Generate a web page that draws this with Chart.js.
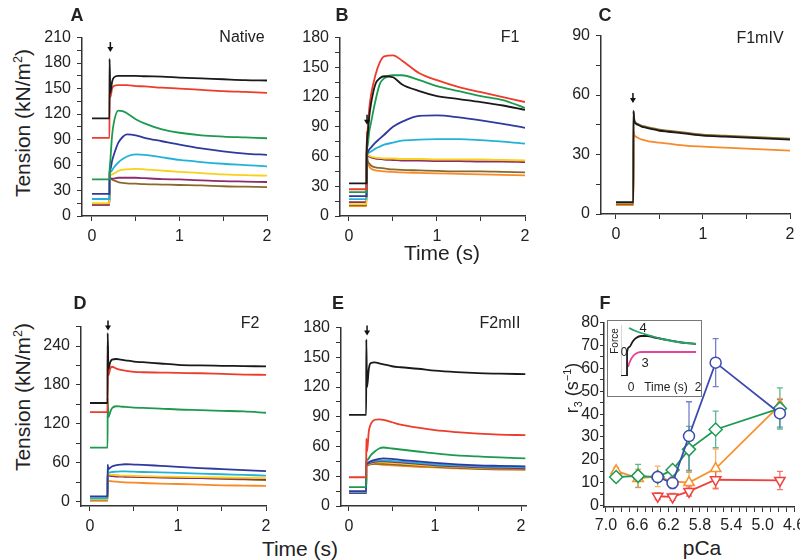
<!DOCTYPE html>
<html>
<head>
<meta charset="utf-8">
<script src="https://cdn.jsdelivr.net/npm/chart.js@4.4.0/dist/chart.umd.min.js"></script>
<style>
  body { margin: 0; width: 800px; height: 560px; position: relative; overflow: hidden; background: #fff;
         font-family: "Liberation Sans", Arial, sans-serif; color: #222; }
  canvas { position: absolute; }
  .t { position: absolute; transform: translate(-50%, -50%); white-space: nowrap; line-height: 1; }
  .rot { transform: translate(-50%, -50%) rotate(-90deg); }
  .big { font-size: 21px; }
  .lab { font-weight: bold; font-size: 18px; }
  .name { font-size: 16px; }
  .inset { position: absolute; left: 607px; top: 320px; width: 95px; height: 77px; border: 1px solid #777; box-sizing: border-box; }
  sup { font-size: 0.6em; }
  sub { font-size: 0.6em; }
</style>
</head>
<body>
<script>
// sample times (s) shared by the tension traces
var timeS = [0, 0.2, 0.201, 0.21, 0.23, 0.25, 0.3, 0.35, 0.4, 0.5, 0.6, 0.8, 1.0, 1.25, 1.5, 1.75, 2.0];
var timeE = [0, 0.2, 0.201, 0.21, 0.23, 0.25, 0.3, 0.35, 0.4, 0.5, 0.6, 0.8, 1.0, 1.25, 1.5, 1.75, 2.05];

// A - Native
var aBlack  = [115,115,185,145,158,163,165,165,165,165,164.5,164,163,162,161,160,159.5];
var aRed    = [92,92,150,140,150,153,154,154,154,153,152.5,151,150,148.5,147,146,145];
var aGreen  = [43,43,50,65,95,110,124,123.5,121,114,109,102,98,95,93.5,92.5,91.5];
var aBlue   = [26,26,52,55,65,72,86,93,96,95,92,88,84,79.5,76,73.5,72];
var aCyan   = [20,20,50,52,54,57,63,67,70,72.5,72,69,66,63.5,61.5,60,58.5];
var aYellow = [15,15,50,48,49,50,53,54.5,55,55.5,55,53.5,52,50.5,49,48,47.5];
var aPurple = [13,13,47,44,44,44,45,45,45,45,44.5,43.5,43,42,41,40.5,40];
var aBrown  = [13,13,48,45,43,42,40,39,38.5,38,37.5,37,36.5,36,35,34.5,34];

// B - F1
var bBlack  = [33,33,63,80,100,113,133,139,141,140,133,126,121,118,115,111.5,107];
var bRed    = [27,27,63,85,108,122,142,155,161,162,157,144,137,130,125,120,115];
var bGreen  = [24,24,63,70,85,94,116,133,139,142,142,137,131,126,121,117,109];
var bBlue   = [20,20,63,64,67,69,74,78,82,90,95,101,101.5,99.5,96.5,93,89];
var bCyan   = [17,17,63,63,64,65,68,70,72,74,76,77,77.5,77.5,76.5,75,73];
var bYellow = [12,12,63,62,61,60,59,58.5,58,58,57.5,57.5,57,57,57,56.5,56];
var bPurple = [14,14,63,62,60,59,58,57.5,57,56.5,56,56,55.5,55.5,55,55,54.5];
var bBrown  = [11,11,85,58,53,51,49,48.5,48,47,46.5,46,45.5,45,45,44.5,44];
var bOrange = [10,10,58,54,50,48,46,45.5,45,44.5,44,43.5,43,42.5,42,41.5,41];

// C - F1mIV
var cBlack  = [6,6,52,47,45.5,45,44,43.5,43,42,41.5,40.5,39.5,39,38.5,38,37.5];
var cBrown  = [5,5,52,48,46,45.5,44.5,44,43.5,42.5,42,41,40,39.5,39,38.5,38];
var cOrange = [4.5,4.5,42,40,39,38.5,37.5,37,36.5,36,35.5,34.5,34,33.5,33,32.5,32];

// D - F2
var dBlack  = [152,152,260,205,215,219,220,219,218,216,215,213,211,210,209.5,209,208.5];
var dRed    = [138,138,240,195,205,208,205,203,202,200,199.5,199,198.5,198,197,196,195.5];
var dGreen  = [83,83,160,130,138,144,147,146.5,146,145,144.5,143.5,142,141,140,139,137];
var dBlue   = [8,8,57,50,52,54,56,57,57.5,57,56.5,55,53.5,51.5,50,48.5,47];
var dCyan   = [5,5,48,45,45,45.5,46,46.5,46.5,46,45.5,45,44,43,42,41,40];
var dYellow = [3,3,45,42,41.5,41,40.5,40,40,39.5,39,38.5,38,37.5,37,36.5,36];
var dPurple = [3,3,44,40,39.5,39,38.5,38.5,38,38,37.5,37,36.5,36,35.5,35,34.5];
var dBrown  = [2,2,48,42,41,40.5,40,39.5,39,38.5,38,37.5,37,36,35,34,33];
var dOrange = [1,1,35,32,31.5,31,30.5,30,29.5,29,28.5,27.5,27,26,25,24.5,24];

// E - F2mII
var eBlack  = [92,92,168,120,138,144,145,144,143,141,140,138.5,136.5,135,134,133.5,133];
var eRed    = [29,29,68,55,75,82,87,87.5,87,84.5,82,79,76.5,74.5,73,72,71.5];
var eGreen  = [19,19,48,46,48,51,55,58,59,58,57,55,53,51,50,49,48];
var eBlue   = [15,15,44,43,44,45,46.5,47.5,48,47.5,46.5,45,43.5,42,41,40.5,40];
var eCyan   = [14,14,45,43,44,44.5,45.5,46,46,45.5,45,43.5,42,41,40,39.5,39];
var ePurple = [13,13,44,42,43,43.5,44.5,45,45,44.5,44,42.5,41,40,39,38.5,38];
var eYellow = [14,14,44,42,42.5,43,44,44,44,43.5,43,41.5,40.5,39.5,38.5,38,38];
var eBrown  = [13,13,43,41,41.5,42,42.5,42.5,42.5,42,41.5,40.5,39.5,38.5,37.5,37,37];
var eOrange = [13,13,46,43,43,43,42.5,42,41.5,41,40.5,39.5,39,38,37.5,37,36.5];

// F - r3 vs pCa
var fBluePca   = [6.34, 6.15, 5.94, 5.60, 4.78];
var fBlueR3    = [12.5, 9.9, 30.4, 62.5, 40.3];
var fBlueErr   = [1.5, 2.5, 15, 10.5, 6];
var fGreenPca  = [6.87, 6.59, 6.34, 6.15, 5.94, 5.60, 4.78];
var fGreenR3   = [12.5, 13, 12.5, 15.6, 24.6, 33.3, 42.5];
var fGreenErr  = [2, 5, 2, 1.5, 10, 8, 9];
var fOrangePca = [6.87, 6.59, 6.34, 6.15, 5.94, 5.60, 4.78];
var fOrangeR3  = [15.2, 11.9, 12.8, 10.5, 10.1, 16.2, 43.9];
var fOrangeErr = [1.5, 4, 4.5, 1.5, 5, 8.5, 3];
var fRedPca    = [6.34, 6.15, 5.94, 5.60, 4.78];
var fRedR3     = [4.1, 3.8, 6.2, 11.3, 11.0];
var fRedErr    = [1.5, 1.5, 2, 4, 4];

// F inset (arbitrary force units)
var insetBlackT = [-0.3, -0.12, -0.119, -0.05, 0.05, 0.15, 0.3, 0.5, 0.7, 1.0, 1.4, 1.94];
var insetBlack  = [0, 0, 4.8, 5.8, 6.9, 7.6, 8.0, 8.0, 7.7, 7.3, 6.8, 6.4];
var insetGreenT = [-0.06, 0.1, 0.3, 0.5, 0.7, 1.0, 1.4, 1.94];
var insetGreen  = [9.6, 9.1, 8.6, 8.2, 7.8, 7.3, 6.8, 6.4];
var insetPinkT  = [-0.09, -0.04, 0.05, 0.15, 0.3, 0.6, 1.94];
var insetPink   = [1.8, 2.8, 3.9, 4.5, 4.8, 4.8, 4.8];

// tick labels
var timeLabels = [0, 1, 2];
var yLabelsA = [0, 30, 60, 90, 120, 150, 180, 210];
var yLabelsB = [0, 30, 60, 90, 120, 150, 180];
var yLabelsC = [0, 30, 60, 90];
var yLabelsD = [0, 60, 120, 180, 240];
var yLabelsE = [0, 30, 60, 90, 120, 150, 180];
var yLabelsF = [0, 10, 20, 30, 40, 50, 60, 70, 80];
var pcaLabels = [7.0, 6.6, 6.2, 5.8, 5.4, 5.0, 4.6];

// stimulus arrows (x, y of tip)
var arrowA = [0.21, 193];
var arrowB = [0.205, 92];
var arrowC = [0.195, 56];
var arrowD = [0.205, 264];
var arrowE = [0.21, 172];

var col = {
  black: "#1a1a1a", red: "#ee3b2b", green: "#1d9a4f", blue: "#2e3a9e", cyan: "#22b2d8",
  yellow: "#f8d21a", purple: "#8e2a6e", brown: "#8a6a2a", orange: "#f78a2a"
};

Chart.defaults.font.family = "'Liberation Sans', Arial, sans-serif";
Chart.defaults.color = "#222";

function pts(xs, ys) {
  return ys.map(function (y, i) { return { x: xs[i], y: y }; });
}

function trace(xs, ys, c) {
  return { data: pts(xs, ys), borderColor: c, borderWidth: 1.8, pointRadius: 0,
           cubicInterpolationMode: "monotone", fill: false };
}

function axis(min, max, step, labels, fmt, rev, tickLen, pad) {
  return {
    type: "linear", min: min, max: max, reverse: !!rev,
    afterBuildTicks: function (s) {
      var t = [];
      for (var k = Math.ceil(min / step - 1e-6); k * step <= max + 1e-6; k++) t.push({ value: +(k * step).toFixed(3) });
      s.ticks = t;
    },
    ticks: {
      autoSkip: false, maxRotation: 0, padding: pad == null ? 6 : pad, color: "#222", font: { size: 16 },
      callback: function (v) { return labels.indexOf(+(+v).toFixed(2)) >= 0 ? fmt(v) : ""; }
    },
    grid: { drawOnChartArea: false, drawTicks: true, tickLength: tickLen || 5, color: "#333" },
    border: { display: true, color: "#333", width: 1.5 }
  };
}

function arrowPlugin(arrow) {
  return {
    id: "arrow",
    afterDatasetsDraw: function (chart) {
      if (!arrow) return;
      var ctx = chart.ctx;
      var x = chart.scales.x.getPixelForValue(arrow[0]);
      var y = chart.scales.y.getPixelForValue(arrow[1]);
      ctx.save();
      ctx.strokeStyle = "#111"; ctx.fillStyle = "#111"; ctx.lineWidth = 1.5;
      ctx.beginPath(); ctx.moveTo(x, y - 10); ctx.lineTo(x, y - 3); ctx.stroke();
      ctx.beginPath(); ctx.moveTo(x - 3, y - 5); ctx.lineTo(x + 3, y - 5); ctx.lineTo(x, y); ctx.closePath(); ctx.fill();
      ctx.restore();
    }
  };
}

function panel(area, x, y, datasets, plugins) {
  var wy = 40, hx = 26, padT = 10, padR = 12;
  var c = document.createElement("canvas");
  c.width = area[2] - area[0] + wy + padR;
  c.height = area[3] - area[1] + padT + hx;
  c.style.left = (area[0] - wy) + "px";
  c.style.top = (area[1] - padT) + "px";
  document.body.appendChild(c);
  x.afterFit = function (s) { s.height = hx; };
  y.afterFit = function (s) { s.width = wy; };
  return new Chart(c.getContext("2d"), {
    type: "line",
    data: { datasets: datasets },
    options: {
      responsive: false, animation: false, events: [],
      layout: { padding: { top: padT, right: padR, left: 0, bottom: 0 } },
      plugins: { legend: { display: false }, tooltip: { enabled: false } },
      scales: { x: x, y: y }
    },
    plugins: plugins || []
  });
}

function fmtInt(v) { return String(Math.round(v)); }
function fmt1(v) { return (+v).toFixed(1); }
function timeAxis(min, max) { return axis(min, max, 0.5, timeLabels, fmtInt); }

// A
panel([82, 32, 267, 216], timeAxis(-0.114, 2), axis(0, 210, 15, yLabelsA, fmtInt), [
  trace(timeS, aBlack, col.black), trace(timeS, aRed, col.red), trace(timeS, aGreen, col.green),
  trace(timeS, aBlue, col.blue), trace(timeS, aCyan, col.cyan), trace(timeS, aYellow, col.yellow),
  trace(timeS, aPurple, col.purple), trace(timeS, aBrown, col.brown)
], [arrowPlugin(arrowA)]);

// B
panel([340, 32, 525, 216], timeAxis(-0.102, 2), axis(0, 180, 15, yLabelsB, fmtInt), [
  trace(timeS, bBlack, col.black), trace(timeS, bRed, col.red), trace(timeS, bGreen, col.green),
  trace(timeS, bBlue, col.blue), trace(timeS, bCyan, col.cyan), trace(timeS, bYellow, col.yellow),
  trace(timeS, bPurple, col.purple), trace(timeS, bBrown, col.brown), trace(timeS, bOrange, col.orange)
], [arrowPlugin(arrowB)]);

// C
panel([601, 30, 790, 214], timeAxis(-0.172, 2), axis(0, 90, 15, yLabelsC, fmtInt), [
  trace(timeS, cBlack, col.black), trace(timeS, cBrown, col.brown), trace(timeS, cOrange, col.orange)
], [arrowPlugin(arrowC)]);

// D
panel([81, 321, 266, 506], timeAxis(-0.102, 2), axis(-7, 270, 30, yLabelsD, fmtInt), [
  trace(timeS, dBlack, col.black), trace(timeS, dRed, col.red), trace(timeS, dGreen, col.green),
  trace(timeS, dBlue, col.blue), trace(timeS, dCyan, col.cyan), trace(timeS, dYellow, col.yellow),
  trace(timeS, dPurple, col.purple), trace(timeS, dBrown, col.brown), trace(timeS, dOrange, col.orange)
], [arrowPlugin(arrowD)]);

// E
panel([341, 322, 526, 506], timeAxis(-0.093, 2.058), axis(0, 180, 15, yLabelsE, fmtInt), [
  trace(timeE, eBlack, col.black), trace(timeE, eRed, col.red), trace(timeE, eGreen, col.green),
  trace(timeE, eBlue, col.blue), trace(timeE, eCyan, col.cyan), trace(timeE, ePurple, col.purple),
  trace(timeE, eYellow, col.yellow), trace(timeE, eBrown, col.brown), trace(timeE, eOrange, col.orange)
], [arrowPlugin(arrowE)]);

// F
var fSeries = [
  { pca: fBluePca, r3: fBlueR3, err: fBlueErr, c: "#3d4bb0", e: "rgba(70,85,190,0.75)", style: "circle", r: 5.5, rot: 0 },
  { pca: fGreenPca, r3: fGreenR3, err: fGreenErr, c: "#1f9a55", e: "rgba(40,160,100,0.75)", style: "rectRot", r: 6.5, rot: 0 },
  { pca: fOrangePca, r3: fOrangeR3, err: fOrangeErr, c: "#f7922e", e: "rgba(248,150,60,0.75)", style: "triangle", r: 6, rot: 0 },
  { pca: fRedPca, r3: fRedR3, err: fRedErr, c: "#f0413c", e: "rgba(240,70,70,0.75)", style: "triangle", r: 6, rot: 180 }
];
var errPlugin = {
  id: "errbars",
  beforeDatasetsDraw: function (chart) {
    var ctx = chart.ctx, xs = chart.scales.x, ys = chart.scales.y;
    ctx.save();
    ctx.lineWidth = 1.3;
    fSeries.forEach(function (s) {
      ctx.strokeStyle = s.e;
      s.pca.forEach(function (p, i) {
        var x = xs.getPixelForValue(p);
        var y1 = ys.getPixelForValue(s.r3[i] + s.err[i]);
        var y2 = ys.getPixelForValue(s.r3[i] - s.err[i]);
        ctx.beginPath();
        ctx.moveTo(x, y1); ctx.lineTo(x, y2);
        ctx.moveTo(x - 3, y1); ctx.lineTo(x + 3, y1);
        ctx.moveTo(x - 3, y2); ctx.lineTo(x + 3, y2);
        ctx.stroke();
      });
    });
    ctx.restore();
  }
};
panel([604, 322, 794, 507], axis(4.6, 7.025, 0.1, pcaLabels, fmt1, true, 5, 4), axis(-0.6, 80, 5, yLabelsF, fmtInt, false, 4, 1),
  fSeries.map(function (s) {
    return { data: pts(s.pca, s.r3), borderColor: s.c, borderWidth: 1.8, tension: 0,
             pointStyle: s.style, pointRadius: s.r, pointRotation: s.rot, pointBorderWidth: 1.5,
             pointBorderColor: s.c, pointBackgroundColor: "#fff", fill: false };
  }), [errPlugin]);
</script>

<div class="inset"></div>
<canvas id="inset" width="81" height="77" style="left:621px; top:320px;"></canvas>
<script>
new Chart(document.getElementById("inset").getContext("2d"), {
  type: "line",
  data: { datasets: [
    trace(insetGreenT, insetGreen, "#2aa36a"),
    trace(insetBlackT, insetBlack, "#1a1a1a"),
    trace(insetPinkT, insetPink, "#e8439a")
  ] },
  options: {
    responsive: false, animation: false, events: [],
    layout: { padding: { top: 6, bottom: 21, left: 0, right: 0 } },
    plugins: { legend: { display: false }, tooltip: { enabled: false } },
    scales: {
      x: { type: "linear", min: -0.3, max: 2.12, display: false },
      y: { type: "linear", min: 0, max: 10, ticks: { display: false }, grid: { display: false },
           border: { display: true, color: "#333", width: 1.2 },
           afterFit: function (s) { s.width = 0; } }
    }
  }
});
</script>

<div class="t lab" style="left:77px; top:15px;">A</div>
<div class="t lab" style="left:342px; top:15px;">B</div>
<div class="t lab" style="left:605px; top:15px;">C</div>
<div class="t lab" style="left:80px; top:303px;">D</div>
<div class="t lab" style="left:338px; top:303px;">E</div>
<div class="t lab" style="left:605px; top:303px;">F</div>

<div class="t name" style="left:242px; top:37px;">Native</div>
<div class="t name" style="left:510px; top:37px;">F1</div>
<div class="t name" style="left:760px; top:38px;">F1mIV</div>
<div class="t name" style="left:250px; top:323px;">F2</div>
<div class="t name" style="left:500px; top:323px;">F2mII</div>

<div class="t big rot" style="left:22px; top:123px;">Tension (kN/m<sup>2</sup>)</div>
<div class="t big rot" style="left:22px; top:397px;">Tension (kN/m<sup>2</sup>)</div>
<div class="t big" style="left:442px; top:252px;">Time (s)</div>
<div class="t big" style="left:300px; top:548px;">Time (s)</div>
<div class="t big" style="left:702px; top:547px;">pCa</div>
<div class="t rot" style="left:573px; top:388px; font-size:18px;">r<sub>3</sub> (s<sup>−1</sup>)</div>

<div class="t rot" style="left:615px; top:341px; font-size:10px;">Force</div>
<div class="t" style="left:624px; top:352px; font-size:12px;">0</div>
<div class="t" style="left:643px; top:327px; font-size:13px;">4</div>
<div class="t" style="left:645px; top:362px; font-size:13px;">3</div>
<div class="t" style="left:631px; top:387px; font-size:12px;">0</div>
<div class="t" style="left:666px; top:387px; font-size:12px;">Time (s)</div>
<div class="t" style="left:698px; top:387px; font-size:12px;">2</div>
</body>
</html>
